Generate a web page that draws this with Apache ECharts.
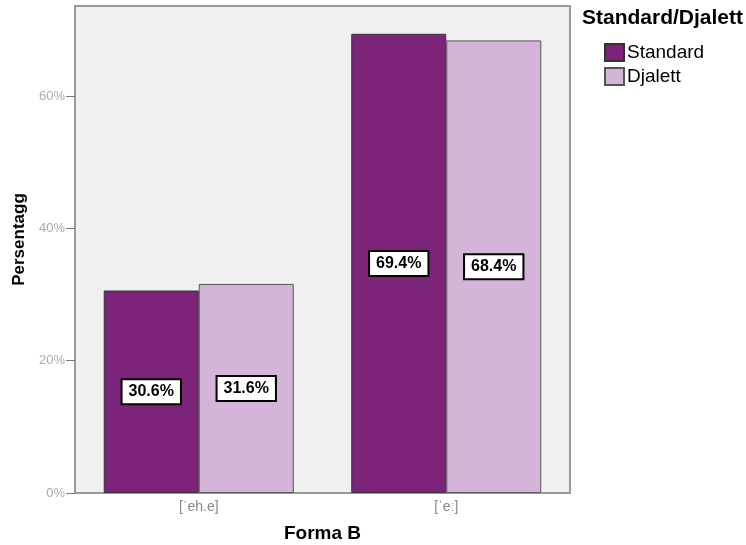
<!DOCTYPE html>
<html>
<head>
<meta charset="utf-8">
<script src="https://cdn.jsdelivr.net/npm/echarts@6/dist/echarts.min.js"></script>
<style>
html,body{margin:0;padding:0;background:#fff;}
#chart{width:746px;height:545px;}
</style>
</head>
<body>
<div id="chart"></div>
<script>
var categories = ["[ˈeh.e]", "[ˈeː]"];
var seriesNames = ["Standard", "Djalett"];
var standardValues = [30.6, 69.4];
var djalettValues = [31.6, 68.4];
var yTicks = [0, 20, 40, 60];

var chart = echarts.init(document.getElementById('chart'));
var font = '"Liberation Sans", Arial, sans-serif';
var labelStyle = {
  show: true,
  position: 'inside',
  formatter: function (p) { return p.value.toFixed(1) + '%'; },
  color: '#000',
  fontFamily: font,
  fontWeight: 'bold',
  fontSize: 16,
  backgroundColor: '#fff',
  borderColor: '#000',
  borderWidth: 2,
  padding: [4, 6, 3, 6]
};
chart.setOption({
  animation: false,
  backgroundColor: '#fff',
  title: {
    text: 'Standard/Djalett',
    left: 582, top: 8, padding: 0,
    textStyle: { fontFamily: font, fontWeight: 'bold', fontSize: 21, color: '#000' }
  },
  legend: {
    orient: 'vertical',
    left: 604, top: 43, padding: 0,
    itemWidth: 19, itemHeight: 17, itemGap: 5,
    icon: 'rect',
    data: seriesNames,
    textStyle: { fontFamily: font, fontSize: 19, color: '#000', padding: [0,0,0,-2] }
  },
  grid: {
    left: 75, top: 6, right: 176, bottom: 52,
    containLabel: false,
    outerBoundsMode: 'none',
    show: true,
    backgroundColor: '#f0f0f0',
    borderColor: '#999',
    borderWidth: 2
  },
  xAxis: {
    type: 'category',
    data: categories,
    name: 'Forma B',
    nameLocation: 'middle',
    nameGap: 31,
    nameTextStyle: { fontFamily: font, fontWeight: 'bold', fontSize: 19, color: '#000' },
    axisLine: { lineStyle: { color: '#999', width: 2 } },
    axisTick: { alignWithLabel: true, length: 5, lineStyle: { color: '#666' } },
    axisLabel: { fontFamily: font, fontSize: 14, color: '#888', margin: 7 }
  },
  yAxis: {
    type: 'value',
    min: 0, max: 73.6, interval: 20,
    name: 'Persentagg',
    nameLocation: 'middle',
    nameGap: 47,
    nameTextStyle: { fontFamily: font, fontWeight: 'bold', fontSize: 17, color: '#000', padding: [0, 0, 0, 20] },
    splitLine: { show: false },
    axisLine: { show: true, lineStyle: { color: '#999', width: 2 } },
    axisTick: { show: true, length: 9, lineStyle: { color: '#777' } },
    axisLabel: {
      fontFamily: font, fontSize: 13, color: '#aaa', margin: 10,
      showMaxLabel: false,
      formatter: function (v) { return yTicks.indexOf(v) >= 0 ? v + '%' : ''; }
    }
  },
  series: [
    {
      name: seriesNames[0], type: 'bar', data: standardValues,
      barWidth: 95, barGap: '0%',
      itemStyle: { color: '#7b2479', borderColor: '#333', borderWidth: 1 },
      label: labelStyle
    },
    {
      name: seriesNames[1], type: 'bar', data: djalettValues,
      barWidth: 95, barGap: '0%',
      itemStyle: { color: '#d5b4da', borderColor: '#555', borderWidth: 1 },
      label: labelStyle
    }
  ]
});
</script>
</body>
</html>
